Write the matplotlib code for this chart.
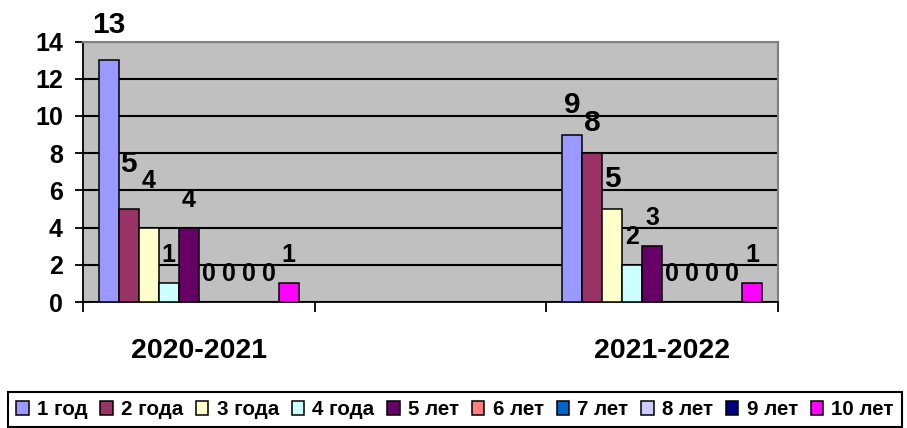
import numpy as np
import matplotlib
matplotlib.use('Agg')
import matplotlib.pyplot as plt

plt.rcParams['font.family'] = ['Liberation Sans', 'DejaVu Sans']
plt.rcParams['font.weight'] = 'bold'

# данные
categories = ['2020-2021', '2021-2022']
cat_slots = [0, 2]          # средний слот пустой, как на исходной диаграмме
series = ['1 год', '2 года', '3 года', '4 года', '5 лет',
          '6 лет', '7 лет', '8 лет', '9 лет', '10 лет']
values_2020 = [13, 5, 4, 1, 4, 0, 0, 0, 0, 1]
values_2021 = [9, 8, 5, 2, 3, 0, 0, 0, 0, 1]

colors = ['#9999FF', '#993366', '#FFFFCC', '#CCFFFF', '#660066',
          '#FF8080', '#0066CC', '#CCCCFF', '#000080', '#FF00FF']

# подписи, сдвинутые вручную (группа, серия) -> смещение по y
label_nudge = {(0, 0): 1.9, (0, 1): 2.4, (0, 2): 2.5,
               (1, 0): 1.6, (1, 1): 1.6, (1, 2): 1.6}

fig = plt.figure(figsize=(9.07, 4.28), dpi=100)
ax = fig.add_axes([83/907, 1-302/428, 695/907, 260.5/428])
ax.set_facecolor('#C0C0C0')

data = np.array([values_2020, values_2021])
x = np.array(cat_slots)
w = 0.0863
for i, name in enumerate(series):
    pos = x + (i - 4.5) * w
    ax.bar(pos, data[:, i], width=w, color=colors[i], edgecolor='black',
           linewidth=1.1, label=name, zorder=3)
    for g in range(len(categories)):
        v = data[g, i]
        dy = label_nudge.get((g, i), 1.5)
        fs = 21.5 if v >= 5 else 18
        ax.text(pos[g], v + dy, str(v), ha='center', va='center',
                fontsize=fs, fontweight='bold', zorder=4)

ax.set_xlim(-0.5, 2.5)
ax.set_ylim(0, 14)
ax.set_yticks(np.arange(0, 15, 2))
ax.tick_params(axis='y', direction='inout', length=11, width=1.3,
               labelsize=18, pad=9)
ax.set_xticks([-0.5, 0.5, 1.5, 2.5])
ax.set_xticklabels([])
ax.tick_params(axis='x', which='major', direction='out', length=7, width=1.3)
ax.set_xticks(x, minor=True)
ax.set_xticklabels(categories, minor=True)
ax.tick_params(axis='x', which='minor', length=0, labelsize=20.5, pad=26)
for lab in ax.get_yticklabels() + ax.get_xticklabels(minor=True):
    lab.set_fontweight('bold')

ax.set_axisbelow(True)
ax.grid(axis='y', color='black', linewidth=1.5)
ax.spines['top'].set_color('#808080')
ax.spines['right'].set_color('#808080')
ax.spines['top'].set_linewidth(1.5)
ax.spines['right'].set_linewidth(1.5)
ax.spines['left'].set_linewidth(1.3)
ax.spines['bottom'].set_linewidth(1.3)

handles, labels = ax.get_legend_handles_labels()
leg = fig.legend(handles, labels, loc='upper left',
                 bbox_to_anchor=(8/907, 1-392/428), ncol=10,
                 frameon=True, fancybox=False, edgecolor='black', framealpha=1,
                 prop={'size': 14.8, 'weight': 'bold'},
                 handlelength=0.6, handleheight=0.6, handletextpad=0.4,
                 columnspacing=0.63, borderpad=0.4, borderaxespad=0)
leg.get_frame().set_linewidth(1.5)

fig.savefig('out.png', dpi=100)
